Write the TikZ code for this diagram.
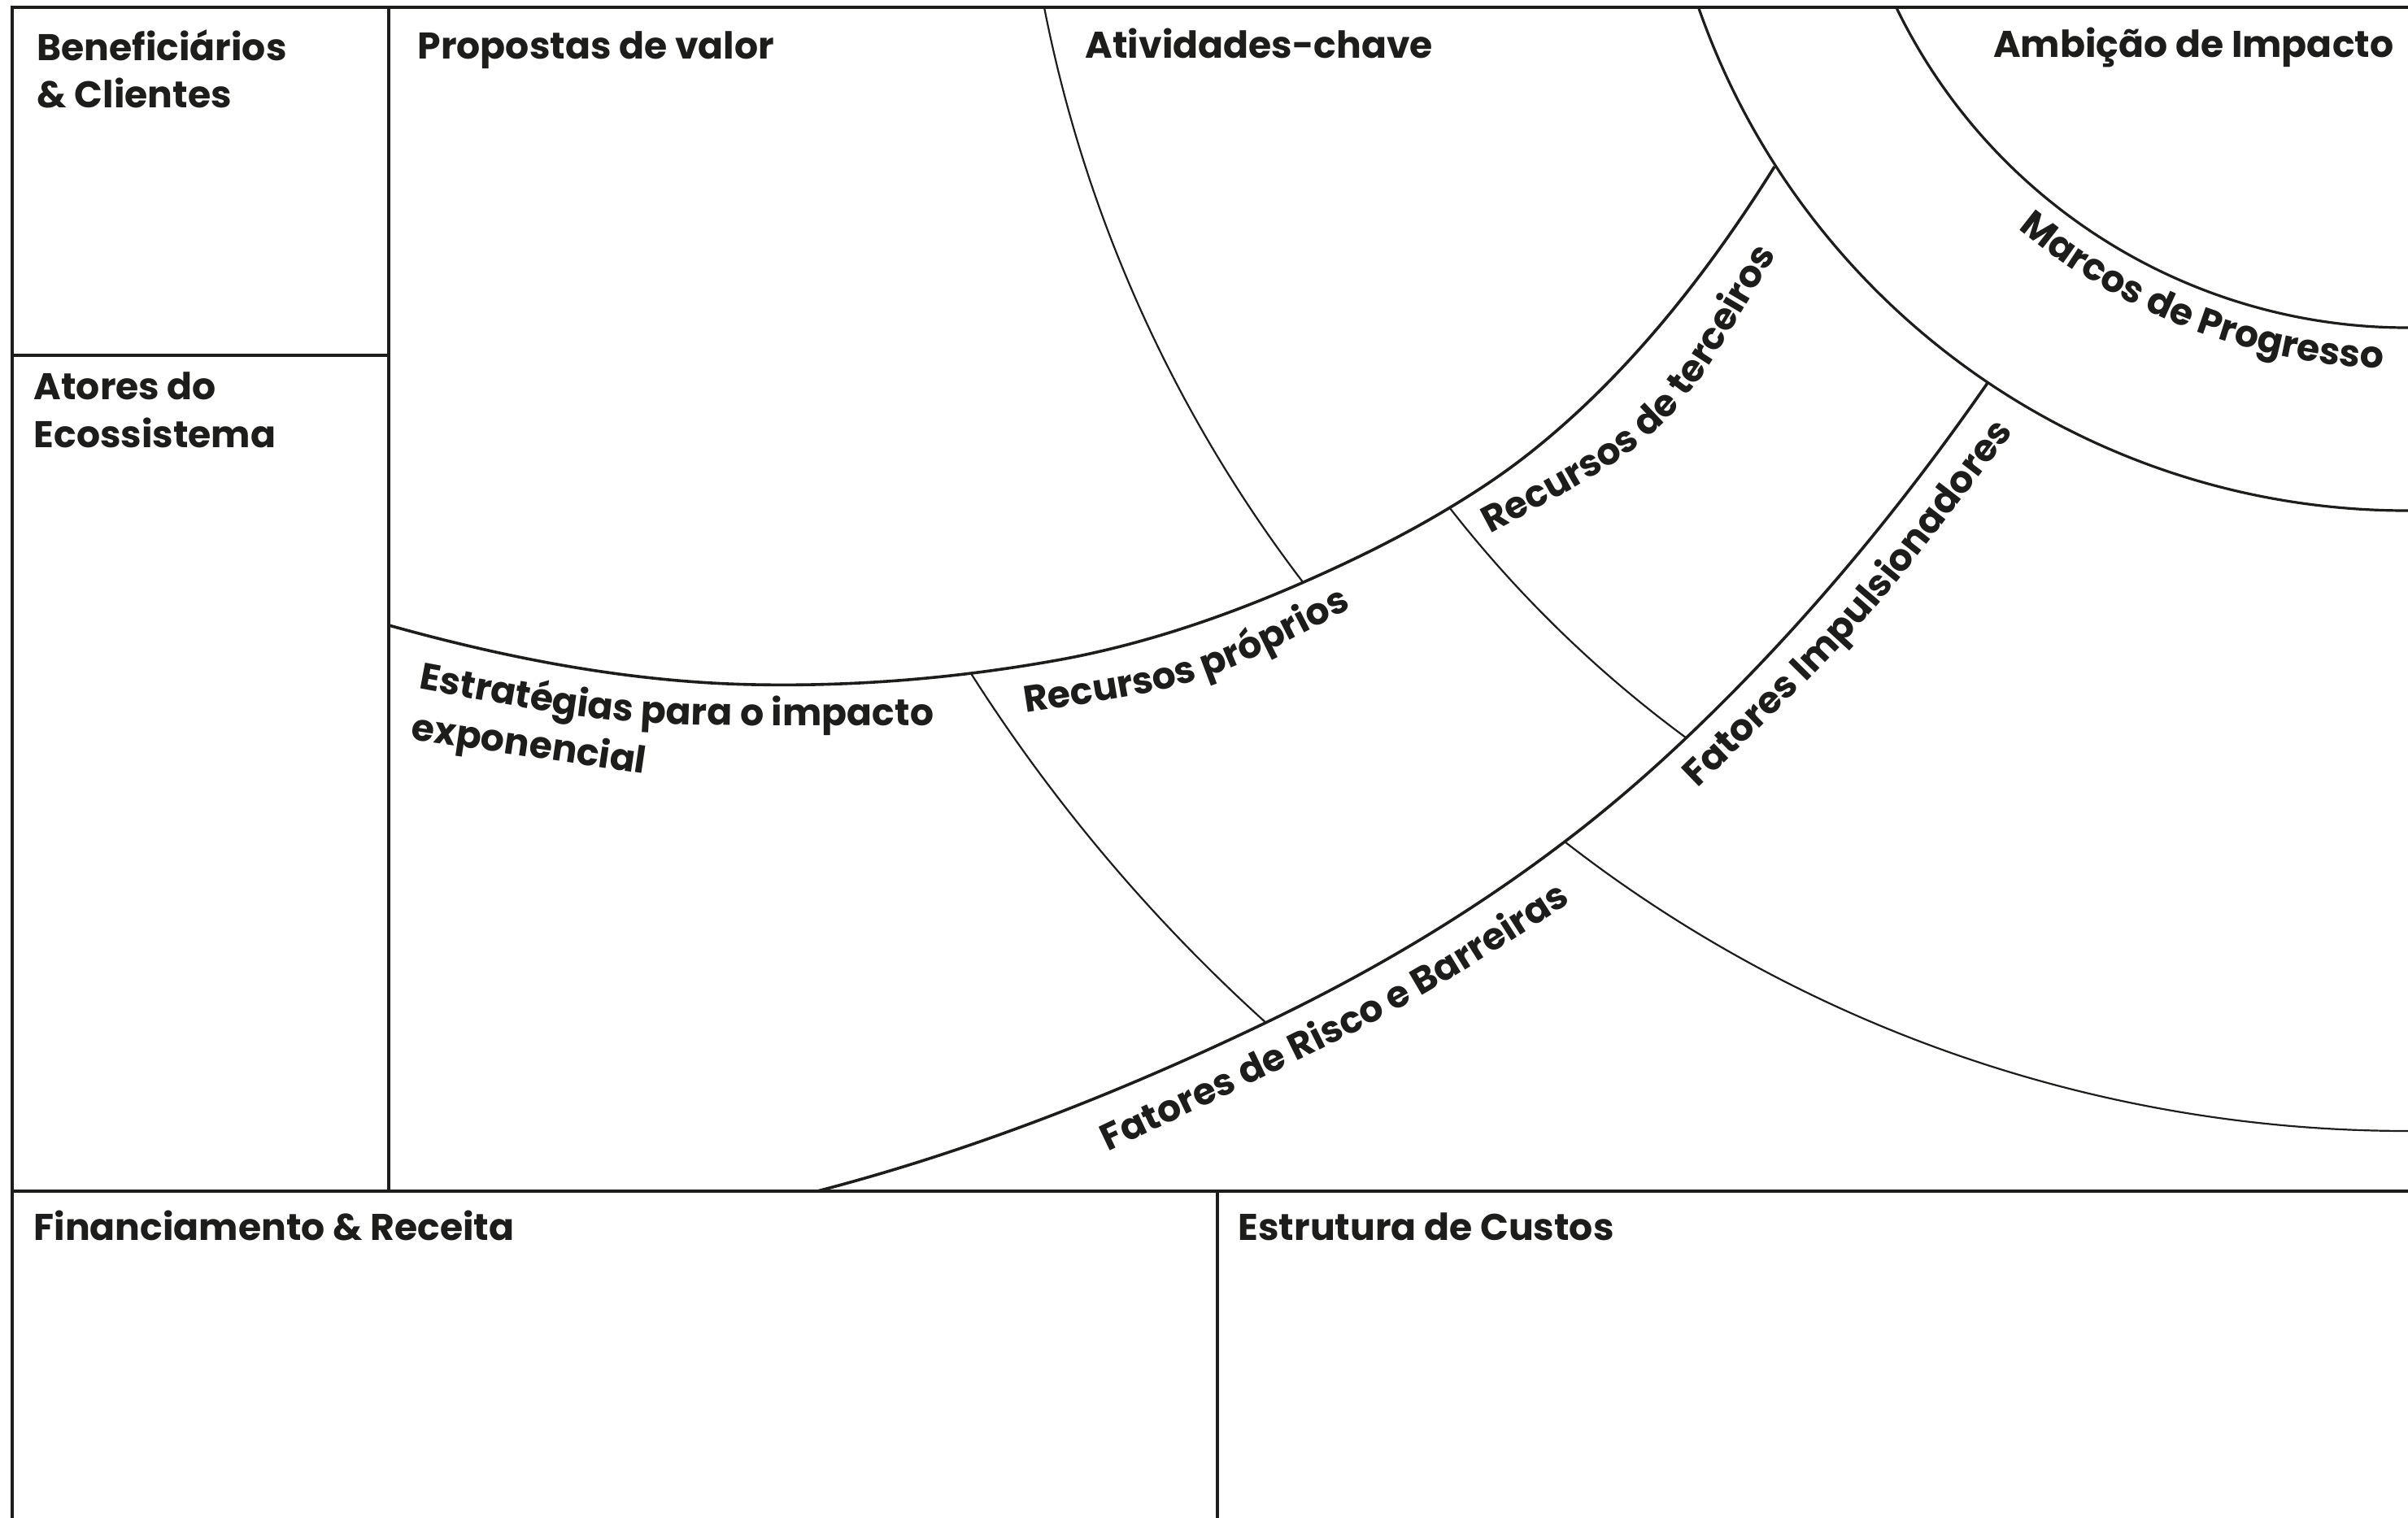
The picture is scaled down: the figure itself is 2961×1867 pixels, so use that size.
\documentclass[tikz,border=0pt]{standalone}
\usepackage{fontspec}
\setmainfont{Poppins}
\newfontfamily\popsb{Poppins Bold}
\usetikzlibrary{decorations.text}
\definecolor{ink}{HTML}{1D1D1B}
\newcommand{\lf}{\popsb\fontsize{13pt}{16pt}\selectfont}
\tikzset{
  frameline/.style={draw=ink, line width=0.36mm, line join=miter},
  sepline/.style={draw=ink, line width=0.22mm},
  arcline/.style={draw=ink, line width=0.32mm},
  lab/.style={inner sep=0pt, text=ink, font=\lf, anchor=base west},
}
\begin{document}
\begin{tikzpicture}[x=0.1mm, y=-0.1mm]
\fill[white] (0,0) rectangle (2961,1867);
\useasboundingbox (0,0) rectangle (2961,1867);

% Ambicao and Marcos arcs
\begin{scope}
\clip (15,9) rectangle (2970,1465);
\draw[arcline] (2960,-295) ++(156:698) arc[start angle=156, end angle=85, radius=698];
\draw[arcline] (2960,-295) ++(163:923) arc[start angle=163, end angle=85, radius=923];
\end{scope}

% Atividades separator (above C1)
\begin{scope}
\clip (478,9) -- (478,769) .. controls (627.3,810.8) and (776.7,839.0) .. (926,842)
  .. controls (1050.7,844.5) and (1175.3,834.4) .. (1300,812)
  .. controls (1401,793.8) and (1502,760.4) .. (1603,716)
  .. controls (1662,690) and (1721,661.4) .. (1780,626)
  .. controls (1813.3,606) and (1846.7,584.3) .. (1880,558)
  .. controls (1980.7,478.5) and (2081.3,366) .. (2182,205) -- (2182,9) -- cycle;
\draw[sepline] (2960,-320) ++(172:1708) arc[start angle=172, end angle=138, radius=1708];
\end{scope}

% separators in the band between C1 and C2
\begin{scope}
\clip (478,769) .. controls (627.3,810.8) and (776.7,839.0) .. (926,842)
  .. controls (1050.7,844.5) and (1175.3,834.4) .. (1300,812)
  .. controls (1401,793.8) and (1502,760.4) .. (1603,716)
  .. controls (1662,690) and (1721,661.4) .. (1780,626)
  .. controls (1813.3,606) and (1846.7,584.3) .. (1880,558)
  .. controls (1980.7,478.5) and (2081.3,366) .. (2182,205)
  -- (2444,471) .. controls (2320.7,648.6) and (2197.3,789.8) .. (2074,907)
  .. controls (2023.7,954.8) and (1973.3,997.75) .. (1923,1036)
  .. controls (1800.7,1129) and (1678.3,1199.3) .. (1556,1258)
  .. controls (1372.3,1346.2) and (1188.7,1417.25) .. (1005,1465)
  -- (478,1465) -- cycle;
\draw[sepline] (2960,-295) ++(150:2093) arc[start angle=150, end angle=129, radius=2093];
\draw[sepline] (2960,-295) ++(146:1494) arc[start angle=146, end angle=122, radius=1494];
\end{scope}

% lower right arc (below C2)
\begin{scope}
\clip (1005,1465) .. controls (1188.7,1417.25) and (1372.3,1346.2) .. (1556,1258)
  .. controls (1678.3,1199.3) and (1800.7,1129) .. (1923,1036)
  .. controls (1973.3,997.75) and (2023.7,954.8) .. (2074,907)
  .. controls (2197.3,789.8) and (2320.7,648.6) .. (2444,471)
  -- (2961,471) -- (2961,1465) -- cycle;
\draw[sepline] (2960,-295) ++(131:1686) arc[start angle=131, end angle=86, radius=1686];
\end{scope}

% the two main curves
\draw[frameline] (478,769) .. controls (627.3,810.8) and (776.7,839.0) .. (926,842)
  .. controls (1050.7,844.5) and (1175.3,834.4) .. (1300,812)
  .. controls (1401,793.8) and (1502,760.4) .. (1603,716)
  .. controls (1662,690) and (1721,661.4) .. (1780,626)
  .. controls (1813.3,606) and (1846.7,584.3) .. (1880,558)
  .. controls (1980.7,478.5) and (2081.3,366) .. (2182,205);
\draw[frameline] (1005,1465) .. controls (1188.7,1417.25) and (1372.3,1346.2) .. (1556,1258)
  .. controls (1678.3,1199.3) and (1800.7,1129) .. (1923,1036)
  .. controls (1973.3,997.75) and (2023.7,954.8) .. (2074,907)
  .. controls (2197.3,789.8) and (2320.7,648.6) .. (2444,471);

% frame
\draw[frameline] (15,1867) -- (15,9) -- (2961,9);
\draw[frameline] (478,9) -- (478,1465);
\draw[frameline] (15,437) -- (478,437);
\draw[frameline] (15,1465) -- (2961,1465);
\draw[frameline] (1497,1465) -- (1497,1867);

% straight labels
\node[lab] (benef1) at (45,75) {Beneficiários};
\node[lab] (benef2) at (45,133) {\& Clientes};
\node[lab] (ator1) at (41,492) {Atores do};
\node[lab] (ator2) at (41,551) {Ecossistema};
\node[lab] (prop) at (513,73) {Propostas de valor};
\node[lab] (ativ) at (1334,72) {Atividades-chave};
\node[lab, anchor=base east] (ambi) at (2944,71) {Ambição de Impacto};
\node[lab] (fin) at (41,1525) {Financiamento \& Receita};
\node[lab] (cust) at (1522,1525) {Estrutura de Custos};

% curved labels
\path[decorate, decoration={text along path, text={|\lf|Estratégias para o impacto}, text align=center, text color=ink}]
  (417,829) -- (515,847) .. controls (769,894.5) .. (1147,892) -- (1247,891);
\path[decorate, decoration={text along path, text={|\lf|exponencial}, text align=center, text color=ink}]
  (410,895.5) -- (887,965.5);
\path[decorate, decoration={text along path, text={|\lf|Recursos próprios}, text align=center, text color=ink}]
  (1162,892) -- (1261,877) .. controls (1478.5,843.5) .. (1662,748) -- (1751,702);
\path[decorate, decoration={text along path, text={|\lf|Recursos de terceiros}, text align=center, text color=ink}]
  (1745,703) -- (1833,656) .. controls (2051.5,539.5) .. (2184,313) -- (2234.5,226.7);
\path[decorate, decoration={text along path, text={|\lf|Fatores de Risco e Barreiras}, text align=center, text color=ink}]
  (1269,1461) -- (1359,1418) .. controls (1719,1247) .. (1935,1108) -- (2019,1054);
\path[decorate, decoration={text along path, text={|\lf|Fatores Impulsionadores}, text align=center, text color=ink}]
  (2020,1034.5) -- (2092,965) .. controls (2292,771.5) .. (2472,536) -- (2532.7,456.6);
\path[decorate, decoration={text along path, text={|\lf|Marcos de Progresso}, text align=center, text color=ink}]
  (2960,-295) ++(137:749) arc[start angle=137, end angle=85, radius=749];
\end{tikzpicture}
\end{document}
